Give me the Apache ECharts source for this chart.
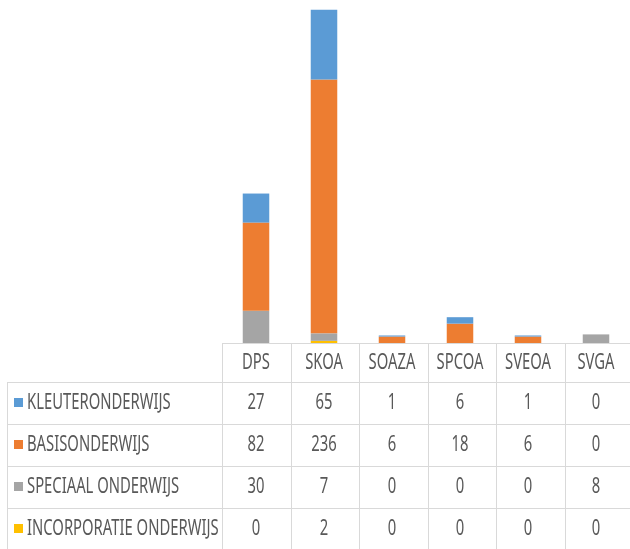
<!DOCTYPE html>
<html>
<head>
<meta charset="utf-8">
<script src="https://cdn.jsdelivr.net/npm/echarts@6/dist/echarts.min.js"></script>
<style>
  html,body{margin:0;padding:0;background:#fff}
  #main{width:630px;height:549px}
</style>
</head>
<body>
<div id="main"></div>
<script>
var categories = ['DPS','SKOA','SOAZA','SPCOA','SVEOA','SVGA']
var seriesNames = ['KLEUTERONDERWIJS','BASISONDERWIJS','SPECIAAL ONDERWIJS','INCORPORATIE ONDERWIJS']
var kleuter = [27,65,1,6,1,0]
var basis = [82,236,6,18,6,0]
var speciaal = [30,7,0,0,0,8]
var incorporatie = [0,2,0,0,0,0]
var colors = ['#5b9bd5','#ed7d31','#a5a5a5','#ffc000']

var font = '21px "Noto Sans",sans-serif'
var squeeze = 0.705   // the original uses a narrow font
var textColor = '#595959'
var lineColor = '#d9d9d9'

var myChart = echarts.init(document.getElementById('main'))
var rows = [kleuter,basis,speciaal,incorporatie]
// stack order bottom->top: incorporatie, speciaal, basis, kleuter
var order = [3,2,1,0]
var series = order.map(function(i){
  return {
    name: seriesNames[i],
    type: 'bar',
    stack: 'total',
    barWidth: '39%',
    itemStyle: {color: colors[i]},
    data: rows[i]
  }
})

myChart.setOption({
  animation: false,
  grid: {left: 222, top: 0, width: 411, height: 343},
  xAxis: {
    type: 'category',
    data: categories,
    axisLine: {show: false},
    axisTick: {show: false},
    axisLabel: {show: false}
  },
  yAxis: {
    type: 'value',
    min: 0,
    max: 319,
    show: false,
    splitLine: {show: false}
  },
  series: series
})

// data table below the plot
var g = []
var left = 7, gx = 222, gRight = 633
var headTop = 343, rowTops = [382, 424, 466, 508], rowH = 42
var colW = (gRight - gx) / categories.length
function line(x1,y1,x2,y2){
  g.push({type:'line',shape:{x1:x1,y1:y1,x2:x2,y2:y2},style:{stroke:lineColor,lineWidth:1}})
}
function txt(x,y,s,align){
  g.push({type:'text',x:x,y:y,scaleX:squeeze,style:{text:s,fill:textColor,font:font,align:align,verticalAlign:'middle'}})
}
line(gx, headTop + 0.5, gRight, headTop + 0.5)
rowTops.forEach(function(t){ line(left, t + 0.5, gRight, t + 0.5) })
line(left + 0.5, rowTops[0], left + 0.5, 549)
for (var c = 0; c <= categories.length; c++) {
  var x = Math.round(gx + c * colW) + 0.5
  line(x, headTop, x, 549)
}
categories.forEach(function(name, c){
  var cx = myChart.convertToPixel({xAxisIndex: 0}, name)
  txt(cx, headTop + 20, name, 'center')
  rows.forEach(function(r, i){
    txt(cx, rowTops[i] + rowH/2, String(r[c]), 'center')
  })
})
seriesNames.forEach(function(name, i){
  var cy = rowTops[i] + rowH/2
  g.push({type:'rect',shape:{x:14,y:cy - 5,width:9,height:9},style:{fill:colors[i]}})
  txt(27, cy, name, 'left')
})
myChart.setOption({graphic: g})
</script>
</body>
</html>
